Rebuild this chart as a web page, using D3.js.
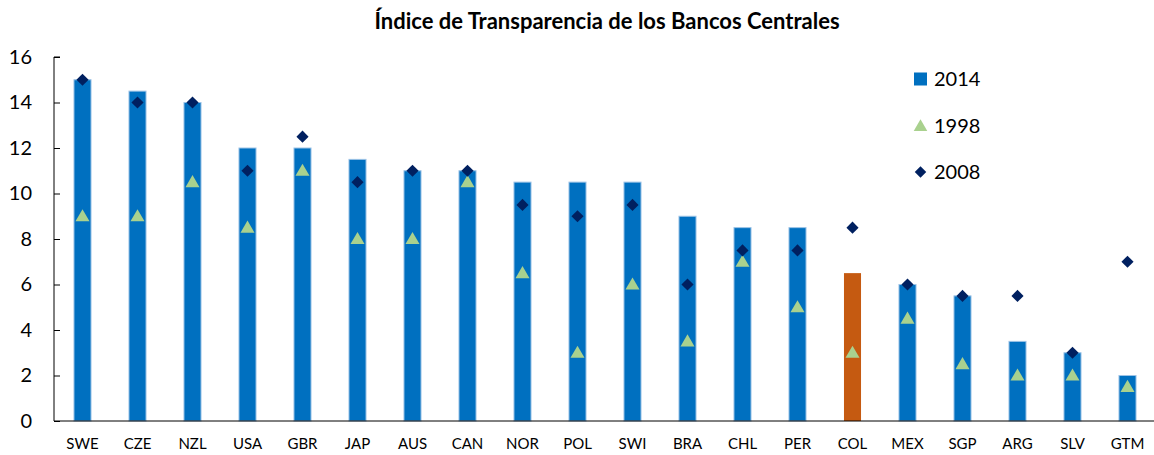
<!DOCTYPE html>
<html>
<head>
<meta charset="utf-8">
<script src="https://cdn.jsdelivr.net/npm/d3@7"></script>
<style>
  body { margin: 0; background: #fff; }
  text { font-family: Lato, "Open Sans", sans-serif; }
</style>
</head>
<body>
<div id="chart"></div>
<script>
const countries = ["SWE", "CZE", "NZL", "USA", "GBR", "JAP", "AUS", "CAN", "NOR", "POL",
                   "SWI", "BRA", "CHL", "PER", "COL", "MEX", "SGP", "ARG", "SLV", "GTM"];
const values2014 = [15, 14.5, 14, 12, 12, 11.5, 11, 11, 10.5, 10.5, 10.5, 9, 8.5, 8.5, 6.5, 6, 5.5, 3.5, 3, 2];
const values1998 = [9, 9, 10.5, 8.5, 11, 8, 8, 10.5, 6.5, 3, 6, 3.5, 7, 5, 3, 4.5, 2.5, 2, 2, 1.5];
const values2008 = [15, 14, 14, 11, 12.5, 10.5, 11, 11, 9.5, 9, 9.5, 6, 7.5, 7.5, 8.5, 6, 5.5, 5.5, 3, 7];
const yTicks = [0, 2, 4, 6, 8, 10, 12, 14, 16];
const highlight = "COL";

const width = 1154, height = 455;
const margin = {top: 57, right: 0, bottom: 34, left: 54};

const svg = d3.select("#chart")
    .append("svg")
    .attr("width", width)
    .attr("height", height);

const x = d3.scaleBand()
    .domain(countries)
    .range([margin.left + 1, width - margin.right + 1])
    .paddingInner(0.69)
    .paddingOuter(0.345);

const y = d3.scaleLinear()
    .domain([0, 16])
    .range([height - margin.bottom, margin.top]);

const rows = countries.map((c, i) => ({c, v14: values2014[i], v98: values1998[i], v08: values2008[i]}));

// title
svg.append("text")
    .attr("x", 607)
    .attr("y", 29)
    .attr("text-anchor", "middle")
    .attr("font-size", 22)
    .attr("font-weight", "bold")
    .text("Índice de Transparencia de los Bancos Centrales");

// bars
svg.selectAll("rect.bar")
    .data(rows)
    .enter()
    .append("rect")
    .attr("class", "bar")
    .attr("x", d => x(d.c))
    .attr("y", d => y(d.v14))
    .attr("width", x.bandwidth())
    .attr("height", d => y(0) - y(d.v14))
    .attr("fill", d => d.c === highlight ? "#C55A11" : "#0070C0")
    .attr("stroke", d => d.c === highlight ? "none" : "#9DC3E6")
    .attr("stroke-width", 1);

// 1998 triangles
svg.selectAll("path.tri")
    .data(rows)
    .enter()
    .append("path")
    .attr("class", "tri")
    .attr("d", d3.symbol(d3.symbolTriangle, 85))
    .attr("transform", d => `translate(${x(d.c) + x.bandwidth() / 2},${y(d.v98) + 1})`)
    .attr("fill", "#A9D18E");

// 2008 diamonds
svg.selectAll("path.dia")
    .data(rows)
    .enter()
    .append("path")
    .attr("class", "dia")
    .attr("d", d3.symbol(d3.symbolSquare, 74))
    .attr("transform", d => `translate(${x(d.c) + x.bandwidth() / 2},${y(d.v08)}) rotate(45)`)
    .attr("fill", "#002060");

// y axis
const yAxis = svg.append("g")
    .attr("transform", `translate(${margin.left},0)`)
    .call(d3.axisRight(y).tickValues(yTicks).tickSize(6).tickFormat(d3.format("d")));
yAxis.select(".domain").attr("stroke", "#000").attr("d", `M6,${y(16)}H0V${y(0)}`);
yAxis.selectAll(".tick line").attr("stroke", "#000");
yAxis.selectAll(".tick text")
    .attr("x", -22)
    .attr("text-anchor", "end")
    .attr("font-size", 20)
    .attr("fill", "#000");

// x axis
const xAxis = svg.append("g")
    .attr("transform", `translate(0,${y(0)})`)
    .call(d3.axisBottom(x).tickSize(0).tickPadding(17));
xAxis.select(".domain").attr("stroke", "#000").attr("d", `M${margin.left},0H${width}`);
xAxis.selectAll(".tick text")
    .attr("font-size", 15)
    .attr("fill", "#000");

// legend
const legendItems = ["2014", "1998", "2008"];
const legend = svg.append("g");
const legendY = [79, 126, 172];
legend.append("rect").attr("x", 914).attr("y", legendY[0] - 6.5).attr("width", 13).attr("height", 13).attr("fill", "#0070C0");
legend.append("path").attr("d", d3.symbol(d3.symbolTriangle, 80))
    .attr("transform", `translate(920.5,${legendY[1] + 1})`).attr("fill", "#A9D18E");
legend.append("path").attr("d", d3.symbol(d3.symbolSquare, 66))
    .attr("transform", `translate(920.5,${legendY[2]}) rotate(45)`).attr("fill", "#002060");
legend.selectAll("text")
    .data(legendItems)
    .enter()
    .append("text")
    .attr("x", 934)
    .attr("y", (d, i) => legendY[i] + 7)
    .attr("font-size", 20)
    .text(d => d);
</script>
</body>
</html>
